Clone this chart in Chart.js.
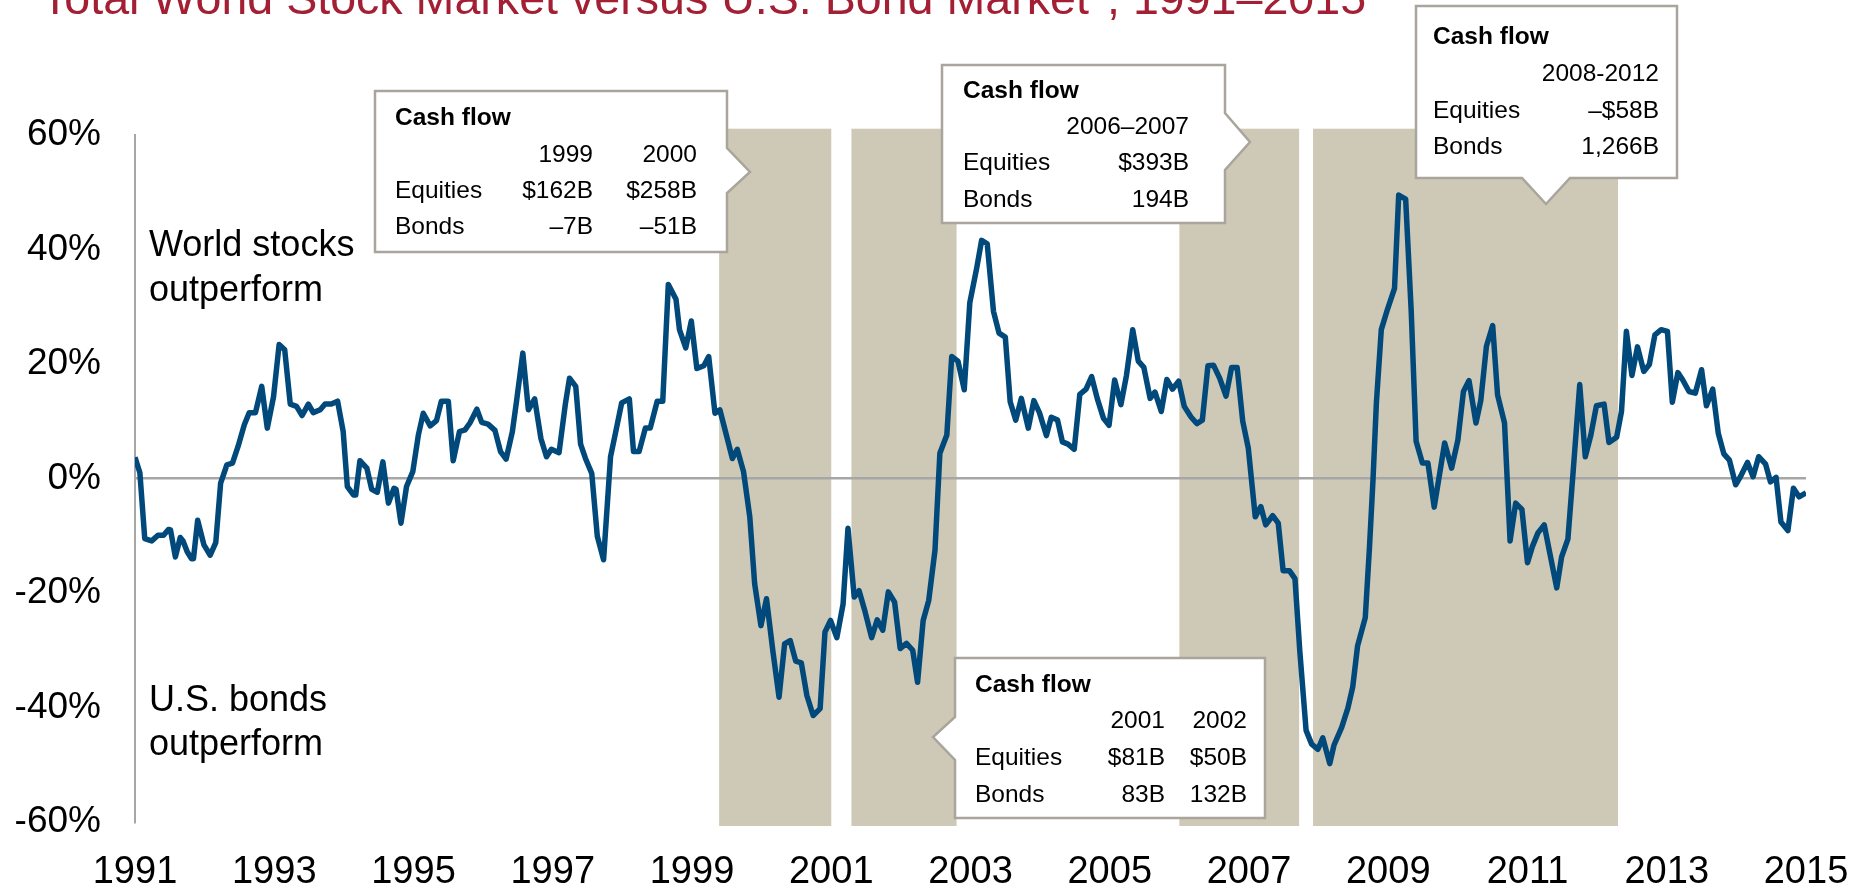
<!DOCTYPE html>
<html>
<head>
<meta charset="utf-8">
<script src="https://cdn.jsdelivr.net/npm/chart.js@4/dist/chart.umd.min.js"></script>
<style>
  html, body { margin: 0; padding: 0; background: #fff; }
  canvas { display: block; }
</style>
</head>
<body>
<canvas id="chart" width="1870" height="885"></canvas>
<script>
// decimal year of each reading, and world stocks minus U.S. bonds (trailing 12m, %)
const dates = [
  1991.00, 1991.07, 1991.14, 1991.24, 1991.33, 1991.41, 1991.48, 1991.51, 1991.58, 1991.65,
  1991.69, 1991.75, 1991.81, 1991.84, 1991.90, 1991.99, 1992.08, 1992.16, 1992.23, 1992.32,
  1992.40, 1992.48, 1992.57, 1992.64, 1992.73, 1992.82, 1992.90, 1992.99, 1993.07, 1993.15,
  1993.23, 1993.32, 1993.40, 1993.49, 1993.56, 1993.66, 1993.73, 1993.82, 1993.91, 1993.99,
  1994.05, 1994.14, 1994.17, 1994.23, 1994.33, 1994.40, 1994.48, 1994.56, 1994.64, 1994.72,
  1994.75, 1994.82, 1994.90, 1994.99, 1995.07, 1995.14, 1995.24, 1995.33, 1995.40, 1995.50,
  1995.57, 1995.66, 1995.74, 1995.81, 1995.91, 1995.98, 1996.07, 1996.17, 1996.25, 1996.33,
  1996.42, 1996.48, 1996.57, 1996.65, 1996.74, 1996.83, 1996.91, 1996.98, 1997.09, 1997.18,
  1997.24, 1997.33, 1997.40, 1997.47, 1997.56, 1997.64, 1997.73, 1997.83, 1997.89, 1997.99,
  1998.10, 1998.16, 1998.24, 1998.33, 1998.40, 1998.50, 1998.58, 1998.66, 1998.77, 1998.82,
  1998.91, 1998.99, 1999.07, 1999.17, 1999.24, 1999.33, 1999.40, 1999.50, 1999.58, 1999.65,
  1999.74, 1999.83, 1999.90, 1999.99, 2000.07, 2000.16, 2000.25, 2000.33, 2000.41, 2000.49,
  2000.57, 2000.65, 2000.74, 2000.84, 2000.91, 2000.99, 2001.08, 2001.17, 2001.24, 2001.33,
  2001.40, 2001.48, 2001.58, 2001.66, 2001.74, 2001.82, 2001.91, 2001.99, 2002.08, 2002.17,
  2002.24, 2002.32, 2002.40, 2002.49, 2002.56, 2002.66, 2002.73, 2002.82, 2002.91, 2002.99,
  2003.09, 2003.16, 2003.24, 2003.33, 2003.41, 2003.50, 2003.57, 2003.65, 2003.73, 2003.83,
  2003.91, 2003.99, 2004.09, 2004.16, 2004.25, 2004.32, 2004.40, 2004.49, 2004.57, 2004.66,
  2004.74, 2004.82, 2004.91, 2004.99, 2005.07, 2005.16, 2005.24, 2005.33, 2005.41, 2005.49,
  2005.58, 2005.65, 2005.74, 2005.82, 2005.90, 2005.99, 2006.07, 2006.17, 2006.25, 2006.33,
  2006.41, 2006.49, 2006.58, 2006.67, 2006.75, 2006.83, 2006.91, 2006.99, 2007.09, 2007.17,
  2007.24, 2007.34, 2007.42, 2007.49, 2007.58, 2007.66, 2007.73, 2007.82, 2007.90, 2007.99,
  2008.06, 2008.16, 2008.22, 2008.33, 2008.42, 2008.49, 2008.56, 2008.67, 2008.73, 2008.78,
  2008.83, 2008.90, 2008.99, 2009.09, 2009.15, 2009.25, 2009.33, 2009.40, 2009.49, 2009.57,
  2009.66, 2009.81, 2009.91, 2010.00, 2010.08, 2010.16, 2010.26, 2010.33, 2010.41, 2010.50,
  2010.57, 2010.67, 2010.75, 2010.83, 2010.92, 2011.00, 2011.07, 2011.15, 2011.24, 2011.32,
  2011.42, 2011.49, 2011.58, 2011.65, 2011.75, 2011.83, 2011.91, 2011.99, 2012.10, 2012.17,
  2012.28, 2012.35, 2012.42, 2012.50, 2012.58, 2012.67, 2012.75, 2012.83, 2012.92, 2013.01,
  2013.08, 2013.16, 2013.23, 2013.32, 2013.41, 2013.50, 2013.57, 2013.66, 2013.74, 2013.82,
  2013.90, 2013.99, 2014.07, 2014.16, 2014.24, 2014.32, 2014.42, 2014.49, 2014.57, 2014.64,
  2014.74, 2014.82, 2014.90, 2015.00
];
const spread = [
  3.7, 1.0, -10.5, -10.9, -9.9, -9.9, -8.9, -9.0, -13.7, -10.3,
  -10.9, -12.8, -14.0, -14.0, -7.3, -11.6, -13.4, -11.2, -0.8, 2.4,
  2.7, 5.6, 9.4, 11.5, 11.5, 16.1, 8.8, 14.3, 23.4, 22.5,
  13.0, 12.6, 11.0, 13.0, 11.5, 12.0, 13.0, 13.0, 13.5, 8.2,
  -1.4, -2.9, -2.9, 3.1, 1.8, -1.9, -2.4, 2.9, -4.3, -1.7,
  -1.9, -7.8, -1.4, 1.2, 7.6, 11.4, 9.2, 10.1, 13.5, 13.5,
  3.1, 8.2, 8.5, 9.7, 12.1, 9.8, 9.5, 8.4, 4.7, 3.4,
  8.2, 13.5, 21.9, 12.0, 13.9, 7.0, 3.8, 5.1, 4.5, 12.9,
  17.5, 16.1, 6.0, 3.5, 0.9, -10.1, -14.2, 3.8, 7.3, 13.2,
  13.9, 4.7, 4.7, 8.8, 8.8, 13.5, 13.5, 33.9, 31.3, 26.0,
  22.8, 27.5, 19.2, 19.7, 21.3, 11.4, 12.0, 7.3, 3.5, 5.1,
  1.2, -6.7, -18.4, -25.7, -21.0, -30.0, -38.2, -28.9, -28.3, -31.9,
  -32.2, -37.9, -41.4, -40.2, -26.8, -24.8, -27.8, -21.9, -8.7, -20.7,
  -19.6, -23.0, -27.8, -24.7, -26.5, -19.8, -21.6, -29.7, -28.8, -30.0,
  -35.6, -24.8, -21.3, -12.5, 4.4, 7.6, 21.3, 20.5, 15.5, 30.7,
  36.8, 41.6, 41.0, 29.2, 25.4, 24.7, 13.4, 10.2, 14.0, 8.8,
  13.6, 11.5, 7.5, 10.7, 10.2, 6.4, 6.0, 5.1, 14.7, 15.6,
  17.8, 14.0, 10.5, 9.3, 17.2, 12.9, 18.0, 26.0, 20.5, 19.4,
  14.0, 15.1, 11.7, 17.3, 15.6, 17.0, 12.6, 10.7, 9.6, 10.2,
  19.7, 19.8, 17.5, 14.4, 19.4, 19.4, 10.0, 5.3, -6.7, -4.9,
  -8.1, -6.5, -7.8, -16.1, -16.1, -17.5, -30.2, -44.0, -46.4, -47.3,
  -45.3, -49.8, -46.6, -43.5, -40.1, -36.4, -29.2, -24.3, -12.1, -0.5,
  13.3, 26.0, 29.6, 33.2, 49.5, 48.8, 29.2, 6.5, 2.7, 2.7,
  -5.0, 6.2, 1.8, 6.7, 15.2, 17.1, 9.7, 13.7, 23.1, 26.7,
  14.6, 9.7, -10.9, -4.3, -5.4, -14.7, -11.9, -9.5, -8.1, -13.0,
  -19.1, -13.7, -10.6, 0.3, 16.4, 3.8, 7.6, 12.7, 13.0, 6.3,
  7.2, 11.7, 25.7, 18.0, 23.0, 18.7, 19.9, 25.1, 26.0, 25.7,
  13.3, 18.5, 17.2, 15.2, 14.9, 19.0, 12.7, 15.6, 7.9, 4.3,
  3.2, -1.1, 0.6, 2.8, 0.3, 3.8, 2.5, -0.6, 0.2, -7.6,
  -9.1, -1.7, -3.2, -2.5
];

// shaded periods of strong flows (decimal years)
const bandStarts = [1999.39, 2001.29, 2006.00, 2007.92];
const bandEnds   = [2001.00, 2002.80, 2007.72, 2012.30];
const bandTop = 61.1;
const bandBottom = -60.7;

const FONT = "'Liberation Sans', Arial, sans-serif";

// cash flow callouts
const callouts = [
  {
    box: [375, 91, 727, 252], pointer: [[727, 148], [750, 172], [727, 193]], side: 'right',
    textX: 395, cols: [593, 697], rowsY: [118, 155, 191, 227],
    rows: [['Cash flow'], ['', '1999', '2000'], ['Equities', '$162B', '$258B'], ['Bonds', '\u20137B', '\u201351B']]
  },
  {
    box: [942, 65, 1225, 223], pointer: [[1225, 113], [1250, 142], [1225, 170]], side: 'right',
    textX: 963, cols: [1189], rowsY: [91, 127, 163, 200],
    rows: [['Cash flow'], ['', '2006\u20132007'], ['Equities', '$393B'], ['Bonds', '194B']]
  },
  {
    box: [1416, 6, 1677, 178], pointer: [[1570, 178], [1546, 204], [1522, 178]], side: 'bottom',
    textX: 1433, cols: [1659], rowsY: [37, 74, 111, 147],
    rows: [['Cash flow'], ['', '2008-2012'], ['Equities', '\u2013$58B'], ['Bonds', '1,266B']]
  },
  {
    box: [955, 658, 1265, 818], pointer: [[955, 760], [933, 737], [955, 717]], side: 'left',
    textX: 975, cols: [1165, 1247], rowsY: [685, 721, 758, 795],
    rows: [['Cash flow'], ['', '2001', '2002'], ['Equities', '$81B', '$50B'], ['Bonds', '83B', '132B']]
  }
];

function calloutPath(ctx, c) {
  const [l, t, r, b] = c.box;
  const p = c.pointer;
  ctx.beginPath();
  ctx.moveTo(l, t);
  ctx.lineTo(r, t);
  if (c.side === 'right') {
    ctx.lineTo(p[0][0], p[0][1]); ctx.lineTo(p[1][0], p[1][1]); ctx.lineTo(p[2][0], p[2][1]);
  }
  ctx.lineTo(r, b);
  if (c.side === 'bottom') {
    ctx.lineTo(p[0][0], p[0][1]); ctx.lineTo(p[1][0], p[1][1]); ctx.lineTo(p[2][0], p[2][1]);
  }
  ctx.lineTo(l, b);
  if (c.side === 'left') {
    ctx.lineTo(p[0][0], p[0][1]); ctx.lineTo(p[1][0], p[1][1]); ctx.lineTo(p[2][0], p[2][1]);
  }
  ctx.closePath();
}

const bandsPlugin = {
  id: 'bands',
  beforeDraw(chart) {
    const { ctx, scales: { x, y } } = chart;
    ctx.save();
    ctx.fillStyle = '#CEC8B6';
    const top = y.getPixelForValue(bandTop);
    const bottom = y.getPixelForValue(bandBottom);
    for (let i = 0; i < bandStarts.length; i++) {
      const x0 = x.getPixelForValue(bandStarts[i]);
      const x1 = x.getPixelForValue(bandEnds[i]);
      ctx.fillRect(x0, top, x1 - x0, bottom - top);
    }
    ctx.restore();
  }
};

const notesPlugin = {
  id: 'notes',
  afterDraw(chart) {
    const ctx = chart.ctx;
    ctx.save();

    // title, cut off at the top edge as in the slide
    ctx.fillStyle = '#A31F34';
    ctx.font = '46.6px ' + FONT;
    ctx.textBaseline = 'alphabetic';
    ctx.textAlign = 'left';
    ctx.fillText('Total World Stock Market versus U.S. Bond Market*, 1991\u20132015', 41, 14);

    ctx.fillStyle = '#000';
    ctx.font = '36px ' + FONT;
    ctx.fillText('World stocks', 149, 256);
    ctx.fillText('outperform', 149, 301);
    ctx.fillText('U.S. bonds', 149, 711);
    ctx.fillText('outperform', 149, 755);

    callouts.forEach(c => {
      calloutPath(ctx, c);
      ctx.fillStyle = '#fff';
      ctx.fill();
      ctx.lineWidth = 2.5;
      ctx.strokeStyle = '#A9A59D';
      ctx.lineJoin = 'miter';
      ctx.stroke();

      ctx.fillStyle = '#000';
      ctx.textBaseline = 'middle';
      c.rows.forEach((row, i) => {
        const yy = c.rowsY[i];
        ctx.font = (i === 0 ? 'bold ' : '') + '24.5px ' + FONT;
        ctx.textAlign = 'left';
        if (row[0]) ctx.fillText(row[0], c.textX, yy);
        ctx.textAlign = 'right';
        for (let k = 1; k < row.length; k++) {
          ctx.fillText(row[k], c.cols[k - 1], yy);
        }
      });
    });
    ctx.restore();
  }
};

const ctx = document.getElementById('chart').getContext('2d');
const chart = new Chart(ctx, {
  type: 'line',
  data: {
    datasets: [{
      data: dates.map((d, i) => ({ x: d, y: spread[i] })),
      borderColor: '#00497A',
      borderWidth: 5.5,
      pointRadius: 0,
      tension: 0,
      fill: false,
      borderJoinStyle: 'round'
    }]
  },
  options: {
    responsive: false,
    animation: false,
    devicePixelRatio: 1,
    layout: { padding: { left: 0, top: 135, right: 64, bottom: 0 } },
    plugins: { legend: { display: false }, tooltip: { enabled: false } },
    scales: {
      x: {
        type: 'linear',
        min: 1991,
        max: 2015,
        grid: { display: false, drawTicks: false },
        border: { display: false },
        ticks: {
          stepSize: 2,
          padding: 28,
          color: '#000',
          font: { family: FONT, size: 38 },
          maxRotation: 0,
          autoSkip: false,
          callback: v => String(v)
        },
        afterFit: s => { s.height = 63; s.paddingLeft = 0; s.paddingRight = 0; }
      },
      y: {
        min: -60,
        max: 60,
        grid: {
          drawTicks: false,
          lineWidth: 2.5,
          color: c => (c.tick && c.tick.value === 0 ? '#A6A6A6' : 'rgba(0,0,0,0)')
        },
        border: { display: true, color: '#A6A6A6', width: 2 },
        ticks: {
          stepSize: 20,
          padding: 34,
          color: '#000',
          font: { family: FONT, size: 37 },
          callback: v => v + '%'
        },
        afterFit: s => { s.width = 135; s.paddingTop = 0; s.paddingBottom = 0; }
      }
    }
  },
  plugins: [bandsPlugin, notesPlugin]
});
</script>
</body>
</html>
